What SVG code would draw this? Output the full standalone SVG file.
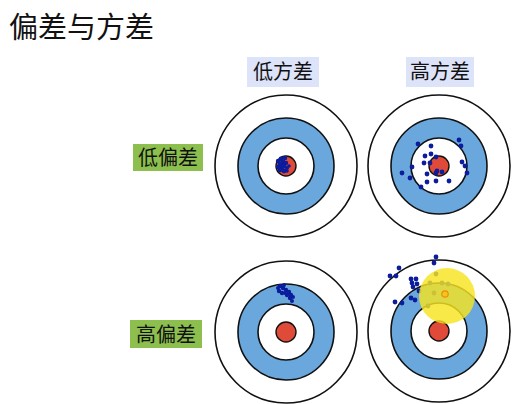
<svg xmlns="http://www.w3.org/2000/svg" width="522" height="404" viewBox="0 0 522 404">
<style>
.t{font-family:"Noto Sans CJK SC","Noto Sans",sans-serif;fill:#111}
.ring0{fill:#fff;stroke:#111;stroke-width:1.6}
.ring1{fill:#6aa7dd;stroke:#111;stroke-width:1.6}
.ring2{fill:#fff;stroke:#111;stroke-width:1.6}
.bull{fill:#e04a38;stroke:#111;stroke-width:1.4}
.d{fill:#0b1c9c}
.hv{fill:#dde3f9}
.hb{fill:#8cbf4d}
</style>
<defs>
<g id="target">
<circle class="ring0" r="71"/>
<circle class="ring1" r="48"/>
<circle class="ring2" r="28"/>
<circle class="bull" r="10"/>
</g>
</defs>
<rect width="522" height="404" fill="#fff"/>
<text class="t" x="9" y="38" font-size="29">偏差与方差</text>

<g id="label-low-variance">
<rect class="hv" x="247" y="57" width="72" height="30"/>
<text class="t" x="283" y="79" font-size="20" text-anchor="middle">低方差</text>
</g>
<g id="label-high-variance">
<rect class="hv" x="406" y="57" width="68" height="30"/>
<text class="t" x="440" y="79" font-size="20" text-anchor="middle">高方差</text>
</g>
<g id="label-low-bias">
<rect class="hb" x="133" y="144" width="70" height="27"/>
<text class="t" x="168" y="165" font-size="20" text-anchor="middle">低偏差</text>
</g>
<g id="label-high-bias">
<rect class="hb" x="130" y="320" width="72" height="28"/>
<text class="t" x="166" y="342" font-size="20" text-anchor="middle">高偏差</text>
</g>

<g id="target-lb-lv">
<use href="#target" x="286" y="166"/>
<g class="d">
<circle cx="281" cy="159" r="2.4"/><circle cx="283" cy="162" r="2.4"/><circle cx="280" cy="164" r="2.4"/>
<circle cx="282" cy="167" r="2.4"/><circle cx="280" cy="170" r="2.4"/><circle cx="284" cy="171" r="2.4"/>
<circle cx="285" cy="158" r="2.2"/><circle cx="286" cy="163" r="2.2"/><circle cx="278" cy="161" r="2.2"/>
<circle cx="278" cy="167" r="2.2"/><circle cx="287" cy="168" r="2"/><circle cx="284" cy="166" r="2.4"/>
<circle cx="289" cy="166" r="1.8"/><circle cx="287" cy="171" r="1.8"/>
</g>
</g>

<g id="target-lb-hv">
<use href="#target" x="439" y="166"/>
<g class="d">
<circle cx="418" cy="144" r="2.4"/><circle cx="431" cy="146" r="2.4"/><circle cx="459" cy="140" r="2.4"/>
<circle cx="461" cy="146" r="2.4"/><circle cx="425" cy="156" r="2.4"/><circle cx="431" cy="154" r="2.4"/>
<circle cx="436" cy="157" r="2.4"/><circle cx="424" cy="163" r="2.4"/><circle cx="430" cy="163" r="2.4"/>
<circle cx="462" cy="162" r="2.4"/><circle cx="465" cy="166" r="2.4"/><circle cx="467" cy="173" r="2.4"/>
<circle cx="402" cy="173" r="2.4"/><circle cx="412" cy="167" r="2.4"/><circle cx="410" cy="178" r="2.4"/>
<circle cx="427" cy="174" r="2.4"/><circle cx="427" cy="182" r="2.4"/><circle cx="436" cy="173" r="2.4"/>
<circle cx="437" cy="171" r="2.4"/><circle cx="442" cy="172" r="2.4"/><circle cx="436" cy="181" r="2.4"/>
<circle cx="449" cy="181" r="2.4"/><circle cx="421" cy="187" r="2.4"/>
</g>
</g>

<g id="target-hb-lv">
<use href="#target" x="286" y="332"/>
<g class="d">
<circle cx="280" cy="286" r="2.2"/><circle cx="283" cy="288" r="2.2"/><circle cx="279" cy="291" r="2.2"/>
<circle cx="282" cy="293" r="2.2"/><circle cx="286" cy="290" r="2.2"/><circle cx="289" cy="292" r="2.2"/>
<circle cx="287" cy="295" r="2.2"/><circle cx="291" cy="295" r="2.2"/><circle cx="290" cy="298" r="2.2"/>
<circle cx="292" cy="301" r="2"/><circle cx="284" cy="285" r="2"/><circle cx="278" cy="288" r="2"/>
<circle cx="293" cy="297" r="2"/><circle cx="285" cy="293" r="2"/>
</g>
</g>

<g id="target-hb-hv">
<use href="#target" x="439" y="331"/>
<g class="d">
<circle cx="436" cy="257" r="2.4"/><circle cx="434" cy="263" r="2.4"/><circle cx="399" cy="268" r="2.4"/>
<circle cx="396" cy="276" r="2.4"/><circle cx="390" cy="276" r="2.4"/><circle cx="411" cy="279" r="2.4"/>
<circle cx="416" cy="279" r="2.4"/><circle cx="412" cy="283" r="2.4"/><circle cx="417" cy="284" r="2.4"/>
<circle cx="413" cy="287" r="2.4"/><circle cx="419" cy="291" r="2.4"/><circle cx="411" cy="298" r="2.4"/>
<circle cx="415" cy="300" r="2.4"/><circle cx="395" cy="302" r="2.4"/><circle cx="402" cy="303" r="2.4"/>
<circle cx="436" cy="274" r="2.4"/><circle cx="430" cy="283" r="2.4"/><circle cx="442" cy="283" r="2.4"/>
<circle cx="448" cy="284" r="2.4"/><circle cx="434" cy="293" r="2.4"/><circle cx="428" cy="306" r="2.4"/>
</g>
<circle cx="447" cy="296" r="28" fill="#f6e421" fill-opacity="0.82"/>
<circle cx="445" cy="294" r="3.2" fill="#f5c518" stroke="#f08a10" stroke-width="1.2"/>
</g>
</svg>
